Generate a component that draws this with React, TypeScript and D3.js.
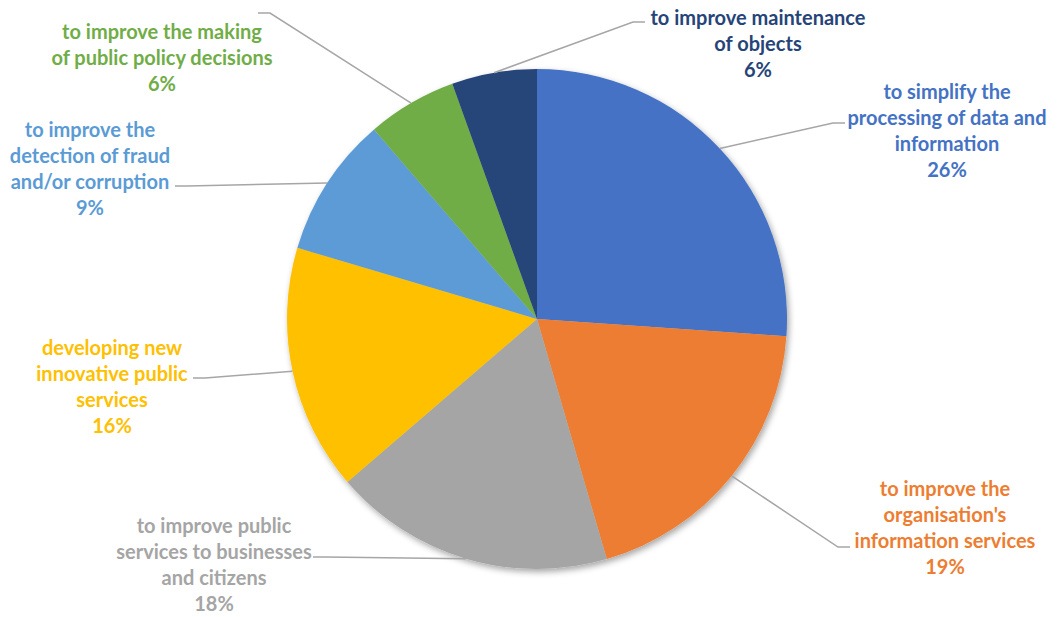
import React from "react";
import * as d3 from "d3";

const categories = [
  "to simplify the processing of data and information",
  "to improve the organisation's information services",
  "to improve public services to businesses and citizens",
  "developing new innovative public services",
  "to improve the detection of fraud and/or corruption",
  "to improve the making of public policy decisions",
  "to improve maintenance of objects",
];
const values = [26.1, 19.4, 18.2, 15.9, 9.1, 5.8, 5.5];
const percentLabels = ["26%", "19%", "18%", "16%", "9%", "6%", "6%"];
const labelLines = [
  ["to simplify the", "processing of data and", "information"],
  ["to improve the", "organisation's", "information services"],
  ["to improve public", "services to businesses", "and citizens"],
  ["developing new", "innovative public", "services"],
  ["to improve the", "detection of fraud", "and/or corruption"],
  ["to improve the making", "of public policy decisions"],
  ["to improve maintenance", "of objects"],
];
const colors = ["#4472C4", "#ED7D31", "#A5A5A5", "#FFC000", "#5B9BD5", "#70AD47", "#264478"];

// layout: label centre x, first line centre y, leader elbow point, leader end (text side)
const labelLayout = [
  { x: 947, y: 92, elbow: [833, 123], end: [845, 123] },
  { x: 945, y: 489, elbow: [838, 547], end: [850, 547] },
  { x: 214, y: 526, elbow: [325, 557], end: [313, 557] },
  { x: 112, y: 348, elbow: [205, 378], end: [193, 378] },
  { x: 90, y: 130, elbow: [187, 186], end: [175, 186] },
  { x: 162, y: 32, elbow: [270, 13], end: [258, 13] },
  { x: 758, y: 18, elbow: [633, 22], end: [645, 22] },
];

const W = 1058;
const H = 617;
const cx = 537;
const cy = 319;
const R = 250;
const lineH = 26;

export default function App() {
  const pie = d3.pie<number>().sort(null).value((d) => d);
  const arcs = pie(values);
  const arc = d3.arc<d3.PieArcDatum<number>>().innerRadius(0).outerRadius(R);

  return (
    <svg
      width={W}
      height={H}
      style={{ position: "absolute", left: 0, top: 0, background: "#fff" }}
      fontFamily="Lato, 'Open Sans', sans-serif"
    >
      <defs>
        <filter id="shadow" x="-20%" y="-20%" width="140%" height="140%">
          <feDropShadow dx="2" dy="3" stdDeviation="3" floodColor="#000" floodOpacity="0.35" />
        </filter>
      </defs>
      <g transform={`translate(${cx},${cy})`} filter="url(#shadow)">
        {arcs.map((a, i) => (
          <path key={categories[i]} d={arc(a) || ""} fill={colors[i]} />
        ))}
      </g>
      {arcs.map((a, i) => {
        const mid = (a.startAngle + a.endAngle) / 2;
        const px = cx + R * Math.sin(mid);
        const py = cy - R * Math.cos(mid);
        const L = labelLayout[i];
        return (
          <polyline
            key={"l" + i}
            points={`${px},${py} ${L.elbow[0]},${L.elbow[1]} ${L.end[0]},${L.end[1]}`}
            fill="none"
            stroke="#A6A6A6"
            strokeWidth={1.5}
          />
        );
      })}
      {labelLines.map((lines, i) => {
        const L = labelLayout[i];
        const all = [...lines, percentLabels[i]];
        return (
          <text
            key={"t" + i}
            x={L.x}
            textAnchor="middle"
            fill={colors[i]}
            fontSize={20}
            fontWeight={700}
          >
            {all.map((s, j) => (
              <tspan key={j} x={L.x} y={L.y + j * lineH} dy="0.35em">
                {s}
              </tspan>
            ))}
          </text>
        );
      })}
    </svg>
  );
}
